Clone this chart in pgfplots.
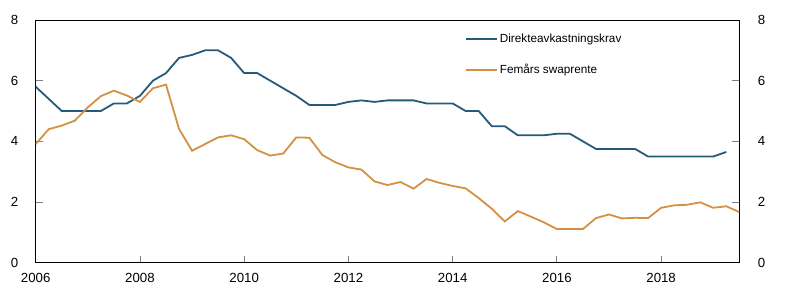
\documentclass[border=0pt]{standalone}
\usepackage{pgfplots}
\pgfplotsset{compat=1.18}
\usepackage{fontspec}
\setmainfont{Liberation Sans}
\definecolor{cblue}{RGB}{36,90,122}
\definecolor{corange}{RGB}{212,145,68}
\begin{document}
\begin{tikzpicture}
\path[use as bounding box] (-35.7bp,-34bp) rectangle (767.3bp,262.7bp);
\begin{axis}[
  at={(0,0)}, anchor=south west,
  scale only axis, width=703.6bp, height=242.7bp,
  xmin=2006, xmax=2019.5, ymin=0, ymax=8,
  xtick={2006,2008,2010,2012,2014,2016,2018},
  ytick={0,2,4,6,8},
  xticklabel style={/pgf/number format/1000 sep={}, yshift=-7.5bp},
  yticklabel style={xshift=-14bp},
  /pgf/number format/assume math mode=true,
  ticklabel style={font=\fontsize{13.3}{15}\selectfont},
  tick align=inside, major tick length=7bp,
  tick style={color=gray, line width=0.8bp},
  ytick pos=both, yticklabel pos=left,
  xtick pos=bottom,
  axis line style={black, line width=0.8bp},
  legend style={at={(rel axis cs:0.61,0.95)}, anchor=north west, draw=none, fill=none,
    inner sep=0pt, font=\fontsize{11.8}{13}\selectfont, row sep=16bp},
  legend cell align=left,
  legend image code/.code={\draw[#1] (0bp,0bp) -- (31bp,0bp);},
]
\addlegendimage{cblue, line width=1.8bp}
\addlegendentry{Direkteavkastningskrav}
\addlegendimage{corange, line width=1.8bp}
\addlegendentry{Femårs swaprente}
\addplot[cblue, line width=1.8bp, forget plot] table {
2006.00 5.80
2006.25 5.40
2006.50 5.00
2006.75 5.00
2007.00 5.00
2007.25 5.00
2007.50 5.25
2007.75 5.25
2008.00 5.50
2008.25 6.00
2008.50 6.25
2008.75 6.75
2009.00 6.85
2009.25 7.00
2009.50 7.00
2009.75 6.75
2010.00 6.25
2010.25 6.25
2010.50 6.00
2010.75 5.75
2011.00 5.50
2011.25 5.20
2011.50 5.20
2011.75 5.20
2012.00 5.30
2012.25 5.35
2012.50 5.30
2012.75 5.35
2013.00 5.35
2013.25 5.35
2013.50 5.25
2013.75 5.25
2014.00 5.25
2014.25 5.00
2014.50 5.00
2014.75 4.50
2015.00 4.50
2015.25 4.20
2015.50 4.20
2015.75 4.20
2016.00 4.25
2016.25 4.25
2016.50 4.00
2016.75 3.75
2017.00 3.75
2017.25 3.75
2017.50 3.75
2017.75 3.50
2018.00 3.50
2018.25 3.50
2018.50 3.50
2018.75 3.50
2019.00 3.50
2019.25 3.65
};
\addplot[corange, line width=1.8bp, forget plot] table {
2006.00 3.91
2006.25 4.40
2006.50 4.52
2006.75 4.68
2007.00 5.12
2007.25 5.49
2007.50 5.67
2007.75 5.51
2008.00 5.30
2008.25 5.75
2008.50 5.87
2008.75 4.41
2009.00 3.69
2009.25 3.91
2009.50 4.13
2009.75 4.20
2010.00 4.07
2010.25 3.71
2010.50 3.53
2010.75 3.60
2011.00 4.13
2011.25 4.12
2011.50 3.55
2011.75 3.31
2012.00 3.14
2012.25 3.07
2012.50 2.68
2012.75 2.56
2013.00 2.66
2013.25 2.44
2013.50 2.76
2013.75 2.63
2014.00 2.53
2014.25 2.45
2014.50 2.13
2014.75 1.78
2015.00 1.36
2015.25 1.70
2015.50 1.52
2015.75 1.33
2016.00 1.11
2016.25 1.11
2016.50 1.11
2016.75 1.47
2017.00 1.59
2017.25 1.46
2017.50 1.48
2017.75 1.47
2018.00 1.81
2018.25 1.89
2018.50 1.91
2018.75 1.99
2019.00 1.81
2019.25 1.86
2019.50 1.67
};
\end{axis}
\begin{axis}[
  at={(0,0)}, anchor=south west,
  scale only axis, width=703.6bp, height=242.7bp,
  xmin=2006, xmax=2019.5, ymin=0, ymax=8,
  hide x axis,
  axis y line*=right,
  y axis line style={draw=none},
  ytick={0,2,4,6,8},
  major tick length=0pt,
  yticklabel style={xshift=15bp},
  /pgf/number format/assume math mode=true,
  ticklabel style={font=\fontsize{13.3}{15}\selectfont},
]
\end{axis}
\end{tikzpicture}
\end{document}
